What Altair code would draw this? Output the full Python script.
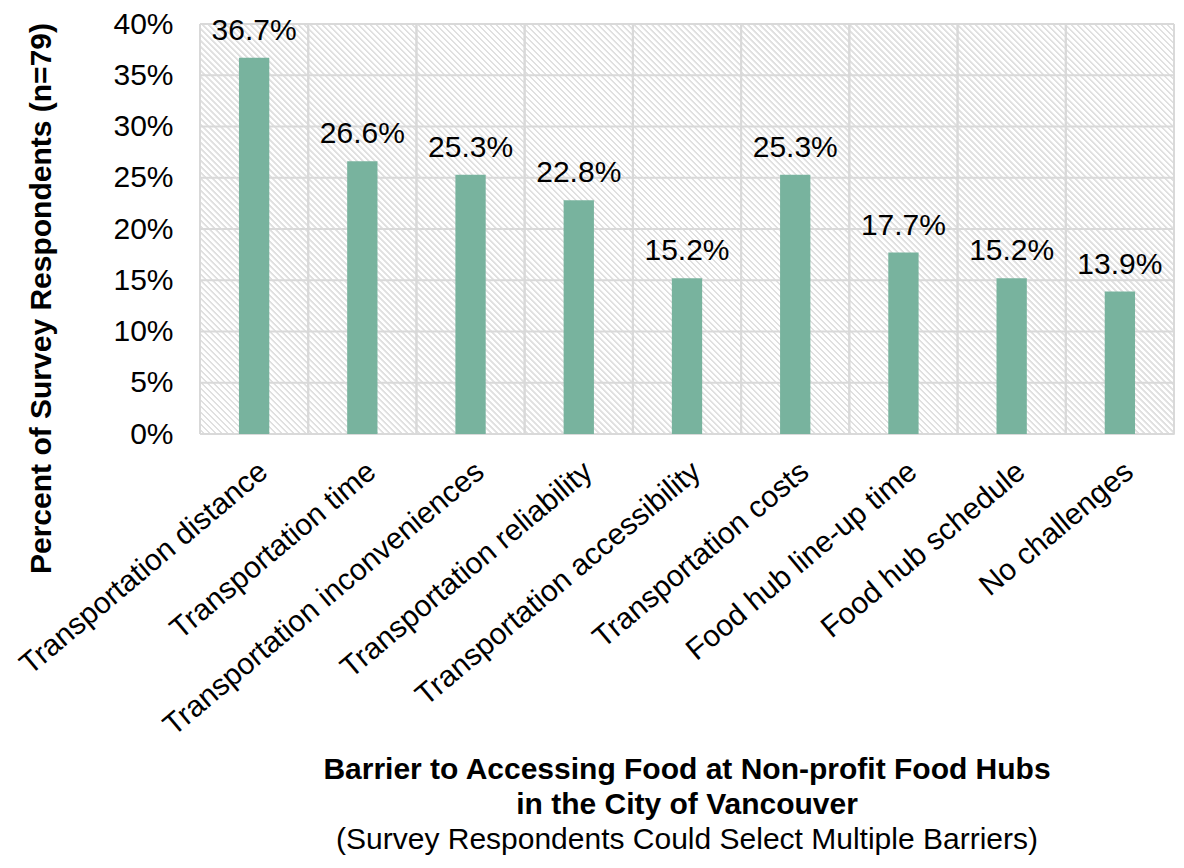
import altair as alt
import pandas as pd

# ---------------- data ----------------
categories = [
    "Transportation distance",
    "Transportation time",
    "Transportation inconveniences",
    "Transportation reliability",
    "Transportation accessibility",
    "Transportation costs",
    "Food hub line-up time",
    "Food hub schedule",
    "No challenges",
]
values = [36.7, 26.6, 25.3, 22.8, 15.2, 25.3, 17.7, 15.2, 13.9]
y_ticks = [0, 5, 10, 15, 20, 25, 30, 35, 40]

y_title = "Percent of Survey Respondents (n=79)"
x_title_lines = ["Barrier to Accessing Food at Non-profit Food Hubs", "in the City of Vancouver"]
x_subtitle = "(Survey Respondents Could Select Multiple Barriers)"

# ---------------- style ----------------
W, H = 974, 410
FONT = "Liberation Sans"
FS = 30
BAR = "#78b39e"
GRID = "#d9d9d9"
STRIPE = "#e0e0e0"

df = pd.DataFrame({"cat": categories, "value": values})
df["label"] = [f"{v:.1f}%" for v in values]
ticks_df = pd.DataFrame({"t": y_ticks})
bg_df = pd.DataFrame({"lo": [min(y_ticks)], "hi": [max(y_ticks)]})

# diagonal hatch "\\\" as a many-stop linear gradient (objectBoundingBox units)
period = 6.0
n_cycles = int(round((W + H) / period))
s = (W + H) / (W ** 2 + H ** 2)
stops = []
d = 1.0 / n_cycles
for i in range(n_cycles):
    o = i * d
    stops += [
        alt.GradientStop(offset=round(o, 6), color="#ffffff"),
        alt.GradientStop(offset=round(o + 0.5 * d, 6), color="#ffffff"),
        alt.GradientStop(offset=round(o + 0.6 * d, 6), color=STRIPE),
        alt.GradientStop(offset=round(o + 0.9 * d, 6), color=STRIPE),
    ]
stops.append(alt.GradientStop(offset=1, color="#ffffff"))
hatch = alt.LinearGradient(gradient="linear", stops=stops, x1=0, y1=1, x2=s * W, y2=1 - s * H)

x_scale = alt.Scale(domain=categories, paddingInner=0, paddingOuter=0)
y_scale = alt.Scale(domain=[0, 40], nice=False, zero=True)

x_axis = alt.Axis(
    title=None, labelAngle=-40, labelFontSize=FS, labelFont=FONT, labelColor="black",
    ticks=False, tickSize=0, domain=False, grid=False, labelPadding=22,
    labelLimit=600, labelOverlap=False,
)
y_axis = alt.Axis(
    title=y_title, titleFontSize=FS, titleFont=FONT, titleFontWeight="bold", titleColor="black",
    titleY=274, titlePadding=56,
    values=y_ticks, labelExpr="datum.value + '%'", labelFontSize=FS, labelFont=FONT,
    labelColor="black", labelPadding=27, ticks=False, tickSize=0, domain=False, grid=False,
)

X = lambda bp=None: (alt.X("cat:N", scale=x_scale, sort=categories, axis=x_axis)
                     if bp is None else
                     alt.X("cat:N", scale=x_scale, sort=categories, axis=x_axis, bandPosition=bp))

bg = alt.Chart(bg_df).mark_rect(fill=hatch, stroke=None).encode(
    y=alt.Y("lo:Q", scale=y_scale, axis=y_axis),
    y2="hi:Q",
    x=alt.value(0),
    x2=alt.value(W),
)

hgrid = alt.Chart(ticks_df).mark_rule(color=GRID, strokeWidth=2).encode(
    y=alt.Y("t:Q", scale=y_scale, axis=y_axis)
)
vgrid0 = alt.Chart(df).mark_rule(color=GRID, strokeWidth=2).encode(x=X(0))
vgrid1 = alt.Chart(df).mark_rule(color=GRID, strokeWidth=2).encode(x=X(1))

bars = alt.Chart(df).mark_bar(color=BAR, width=alt.RelativeBandSize(0.28)).encode(
    x=X(),
    y=alt.Y("value:Q", scale=y_scale, axis=y_axis),
)

labels = alt.Chart(df).mark_text(
    dy=-18, baseline="alphabetic", fontSize=FS, font=FONT, color="black"
).encode(
    x=X(),
    y=alt.Y("value:Q", scale=y_scale, axis=y_axis),
    text="label:N",
)

chart = alt.layer(bg, hgrid, vgrid0, vgrid1, bars, labels).properties(
    width=W,
    height=H,
    title=alt.TitleParams(
        text=x_title_lines,
        subtitle=x_subtitle,
        orient="bottom",
        anchor="middle",
        frame="group",
        font=FONT,
        fontSize=FS,
        fontWeight="bold",
        color="black",
        lineHeight=35,
        offset=14,
        subtitleFont=FONT,
        subtitleFontSize=FS,
        subtitleFontWeight="normal",
        subtitleColor="black",
        subtitlePadding=5,
    ),
    autosize=alt.AutoSizeParams(type="none"),
    padding={"left": 192, "top": 16, "right": 2, "bottom": 426},
).configure_view(stroke=None).configure(background="white")

chart.save("out.html", embed_options={"renderer": "svg", "actions": False})
